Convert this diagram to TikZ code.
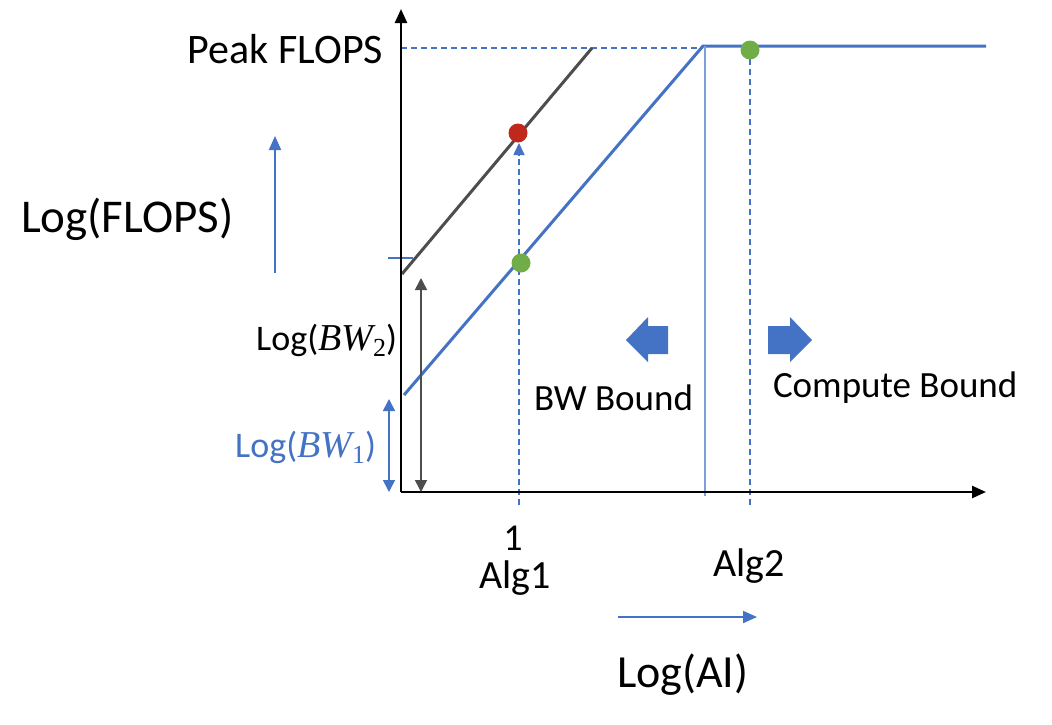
\documentclass[tikz,border=0pt]{standalone}
\usepackage{fontspec}
\setmainfont{Carlito}
\newfontfamily\bwfont{Liberation Serif}
\usetikzlibrary{arrows.meta}
\definecolor{ob}{HTML}{4472C4}
\definecolor{obl}{HTML}{7F9FD9}
\definecolor{og}{HTML}{70AD47}
\definecolor{ored}{HTML}{C0281C}
\definecolor{ogray}{HTML}{4D4D4D}
\newcommand\setfs[1]{\fontsize{#1}{#1}\selectfont}
\tikzset{
  axis/.style={line width=2.4pt, black, -{Triangle[length=14pt,width=12pt]}},
  bdash/.style={ob, line width=1.6pt, dash pattern=on 6pt off 4pt},
  thickline/.style={line width=3pt},
  dbl/.style={line width=1.6pt, {Triangle[length=12pt,width=12pt]}-{Triangle[length=12pt,width=12pt]}},
  lbl/.style={inner sep=0pt, outer sep=0pt},
  dot/.style={circle, inner sep=0pt, minimum size=19pt}
}
\begin{document}
\begin{tikzpicture}[x=1pt,y=-1pt]
\useasboundingbox (0,0) rectangle (1052,724);
% coordinates
\coordinate (O) at (401,492);
\coordinate (ytop) at (401,9);
\coordinate (xend) at (986,492);
\coordinate (pk) at (703,46);
\coordinate (pkend) at (986,46);
\coordinate (bw1s) at (404,395);
\coordinate (bw2s) at (402,274);
\coordinate (bw2e) at (592,48);
% dashed peak line
\draw[bdash] (401,48) -- (703,48);
% gray roofline
\draw[ogray, thickline] (bw2s) -- (bw2e);
% blue roofline
\draw[ob, thickline, line join=miter] (bw1s) -- (pk) -- (pkend);
% thin vertical ridge
\draw[obl, line width=2pt] (705,46) -- (705,496);
% dashed verticals
\draw[bdash, -{Triangle[length=12pt,width=11pt]}] (519,505) -- (519,143);
\draw[bdash] (750,505) -- (750,55);
% tick
\draw[ob, line width=1.5pt] (388,258) -- (413,258);
% axes
\draw[axis] (O) -- (ytop);
\draw[axis] (O) -- (xend);
\draw[line width=2.4pt] (O) -- (401,480);
% dots
\node[dot, fill=ored] (red) at (518,133) {};
\node[dot, fill=og] (g1) at (521,263) {};
\node[dot, fill=og] (g2) at (750,50) {};
% double arrows
\draw[dbl, ogray] (421,278) -- (421,492);
\draw[dbl, ob] (389,399) -- (389,492);
% side arrows
\draw[ob, line width=2pt, -{Triangle[length=14pt,width=12pt]}] (275,273) -- (275,136);
\draw[ob, line width=2pt, -{Triangle[length=14pt,width=12pt]}] (618,617) -- (757,617);
% block arrows
\fill[ob] (626,340) -- (648,317) -- (648,326) -- (668,326) -- (668,354) -- (648,354) -- (648,362) -- cycle;
\fill[ob] (812,340) -- (790,317) -- (790,326) -- (768,326) -- (768,354) -- (790,354) -- (790,362) -- cycle;
% labels
\node[lbl, anchor=base east] (peak) at (383,63) {\setfs{42}Peak FLOPS};
\node[lbl, anchor=base west] (lflops) at (21,232) {\setfs{47}Log(FLOPS)};
\node[lbl, anchor=base east] (lbw2) at (397,350) {\setfs{36}Log({\bwfont\itshape\setfs{38}BW}\raisebox{-6pt}{\bwfont\setfs{26}2})};
\node[lbl, anchor=base east, text=ob] (lbw1) at (376,457) {\setfs{36}Log({\bwfont\itshape\setfs{38}BW}\raisebox{-6pt}{\bwfont\setfs{26}1})};
\node[lbl, anchor=base east] (bwb) at (693,410) {\setfs{37}BW Bound};
\node[lbl, anchor=base west] (cb) at (773,397) {\setfs{37}Compute Bound};
\node[lbl, anchor=base] (one) at (513,550) {\setfs{38}1};
\node[lbl, anchor=base] (alg1) at (515,588) {\setfs{40}Alg1};
\node[lbl, anchor=base] (alg2) at (749,576) {\setfs{40}Alg2};
\node[lbl, anchor=base west] (lai) at (617,687) {\setfs{46}Log(AI)};
\end{tikzpicture}
\end{document}
